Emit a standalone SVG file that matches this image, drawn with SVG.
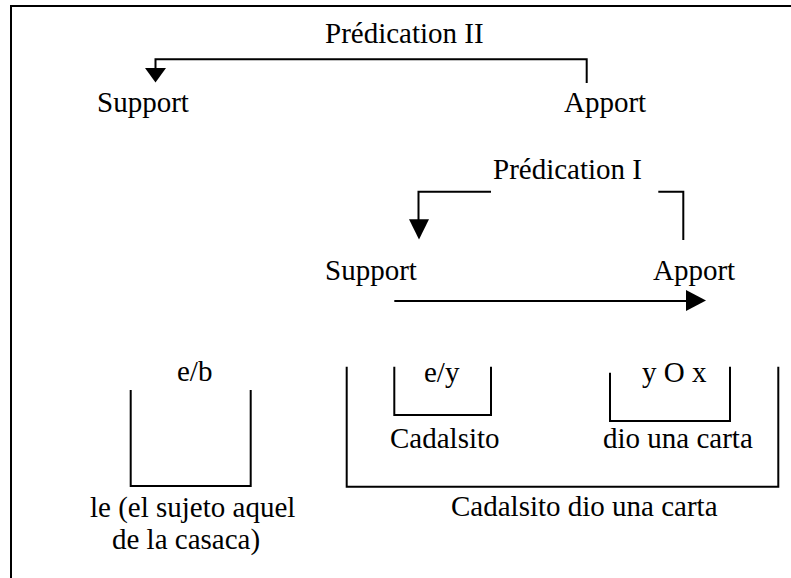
<svg xmlns="http://www.w3.org/2000/svg" width="791" height="578" viewBox="0 0 791 578">
<style>
text{font-family:"Liberation Serif","Times New Roman",serif;font-size:29px;fill:#000}
.ln{fill:none;stroke:#000;stroke-width:2}
.ah{fill:#000;stroke:none}
</style>
<rect width="791" height="578" fill="#fff"/>
<g id="frame"><polyline class="ln" points="11,578 11,6 791,6" stroke-width="2.5"/></g>
<g id="predication2"><text x="325" y="43">Prédication II</text></g>
<g id="support2"><text x="97" y="112">Support</text></g>
<g id="apport2"><text x="564" y="112">Apport</text></g>
<g id="predication1"><text x="493" y="179">Prédication I</text></g>
<g id="support1"><text x="325" y="280">Support</text></g>
<g id="apport1"><text x="653" y="280">Apport</text></g>
<g id="eb">
<text x="177" y="381">e/b</text>
<polyline class="ln" points="130.7,390 130.7,486 250.7,486 250.7,390"/>
<text x="90" y="517">le (el sujeto aquel</text>
<text x="112" y="549">de la casaca)</text>
</g>
<g id="whole">
<polyline class="ln" points="346.7,366.7 346.7,486.7 778.3,486.7 778.3,366.7"/>
<text x="451" y="516">Cadalsito dio una carta</text>
</g>
<g id="ey">
<polyline class="ln" points="394.3,366.7 394.3,415 491,415 491,366.7"/>
<text x="424" y="382">e/y</text>
<text x="390" y="448">Cadalsito</text>
</g>
<g id="yox">
<polyline class="ln" points="610,372.7 610,421 730,421 730,366.7"/>
<text x="642" y="382">y O x</text>
<text x="603" y="448">dio una carta</text>
</g>
<g id="connectors">
<polyline class="ln" points="586.7,83 586.7,59.3 155.5,59.3 155.5,69"/>
<polygon class="ah" points="145,68 166,68 155.5,82.5"/>
<polyline class="ln" points="491,191.7 418.5,191.7 418.5,220"/>
<polygon class="ah" points="409,219.3 429,219.3 419,239.5"/>
<polyline class="ln" points="658.3,191.7 683.3,191.7 683.3,240"/>
<line class="ln" x1="394.3" y1="301" x2="687" y2="301"/>
<polygon class="ah" points="686,290 706,300.5 686,311"/>
</g>
</svg>
